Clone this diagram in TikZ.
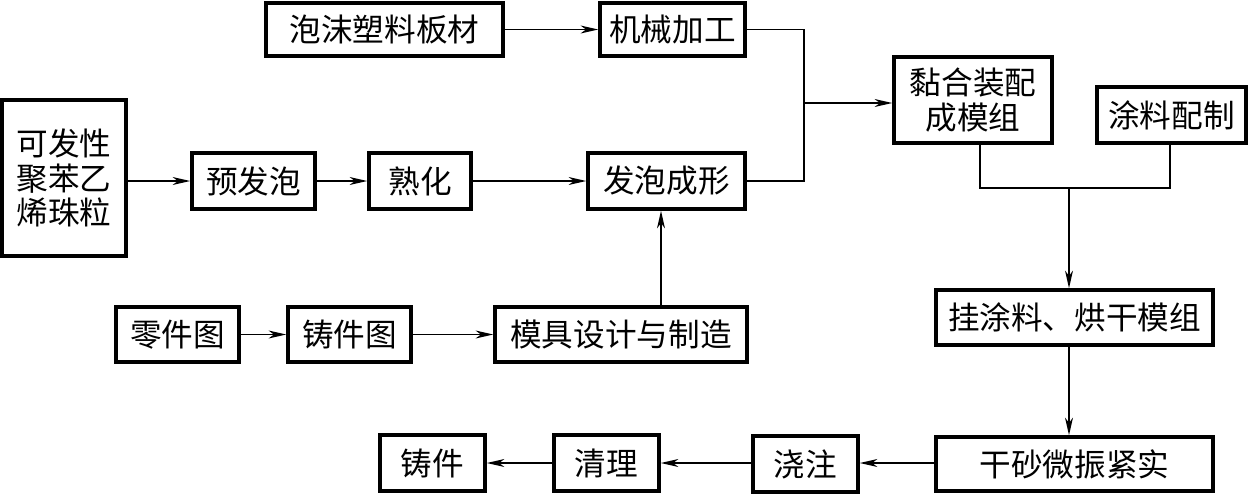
\documentclass[tikz,border=0pt]{standalone}
\usepackage{fontspec}
\newfontfamily\cjk{Noto Sans CJK SC}
\usetikzlibrary{arrows.meta,calc}
\begin{document}
\begin{tikzpicture}[x=0.02cm,y=-0.02cm,
  box/.style={draw,line width=2pt,inner sep=0pt,align=center,
    font=\cjk\fontsize{18pt}{19.8pt}\selectfont},
  conn/.style={line width=1pt},
  arr/.style={conn,-{Stealth[length=10pt,width=4.5pt,inset=3pt]}}]
\useasboundingbox (0,0) rectangle (1248,494);
% nodes
\node[box,minimum width={237*0.02cm},minimum height={53*0.02cm}] (foam) at (384.5,29.5) {泡沫塑料板材};
\node[box,minimum width={145*0.02cm},minimum height={53*0.02cm}] (mach) at (672.5,29.5) {机械加工};
\node[box,minimum width={158*0.02cm},minimum height={86*0.02cm}] (glue) at (973,100) {黏合装配\\成模组};
\node[box,minimum width={149*0.02cm},minimum height={56*0.02cm}] (coat) at (1171.5,115) {涂料配制};
\node[box,minimum width={124*0.02cm},minimum height={156*0.02cm}] (eps) at (64,178) {可发性\\聚苯乙\\烯珠粒};
\node[box,minimum width={123*0.02cm},minimum height={56*0.02cm}] (pre) at (253.5,181) {预发泡};
\node[box,minimum width={102*0.02cm},minimum height={56*0.02cm}] (cure) at (420,181) {熟化};
\node[box,minimum width={157*0.02cm},minimum height={56*0.02cm}] (form) at (666.5,181) {发泡成形};
\node[box,minimum width={123*0.02cm},minimum height={55*0.02cm}] (part) at (177.5,334.5) {零件图};
\node[box,minimum width={123*0.02cm},minimum height={55*0.02cm}] (cast) at (349.5,334.5) {铸件图};
\node[box,minimum width={252*0.02cm},minimum height={55*0.02cm}] (mold) at (621,334.5) {模具设计与制造};
\node[box,minimum width={277*0.02cm},minimum height={55*0.02cm}] (hang) at (1074.5,317.5) {挂涂料、烘干模组};
\node[box,minimum width={277*0.02cm},minimum height={54*0.02cm}] (sand) at (1074.5,464) {干砂微振紧实};
\node[box,minimum width={105*0.02cm},minimum height={56*0.02cm}] (pour) at (805.5,464) {浇注};
\node[box,minimum width={105*0.02cm},minimum height={56*0.02cm}] (clean) at (606.5,463) {清理};
\node[box,minimum width={105*0.02cm},minimum height={56*0.02cm}] (casting) at (432.5,463) {铸件};
% helper coordinates
\coordinate (jx) at (804,103);
\coordinate (gx) at (980,188);
\coordinate (cx) at (1170,188);
\coordinate (dx) at (1069,188);
% connectors
\draw[arr] (foam.east) -- (mach.west);
\draw[arr] (eps.east |- pre.west) -- (pre.west);
\draw[arr] (pre.east) -- (cure.west);
\draw[arr] (cure.east) -- (form.west);
\draw[conn] (mach.east) -| (jx) |- (form.east);
\draw[arr] (jx) -- (jx -| glue.west);
\draw[arr] (part.east) -- (cast.west);
\draw[arr] (cast.east) -- (mold.west);
\draw[arr] (mold.north -| 661,0) -- (form.south -| 661,0);
\draw[conn] (glue.south -| gx) -- (gx) -- (cx) -- (coat.south -| cx);
\draw[arr] (dx) -- (hang.north -| dx);
\draw[arr] (hang.south -| dx) -- (sand.north -| dx);
\draw[arr] (sand.west |- 0,463) -- (pour.east |- 0,463);
\draw[arr] (pour.west |- 0,463) -- (clean.east |- 0,463);
\draw[arr] (clean.west) -- (casting.east);
\end{tikzpicture}
\end{document}
